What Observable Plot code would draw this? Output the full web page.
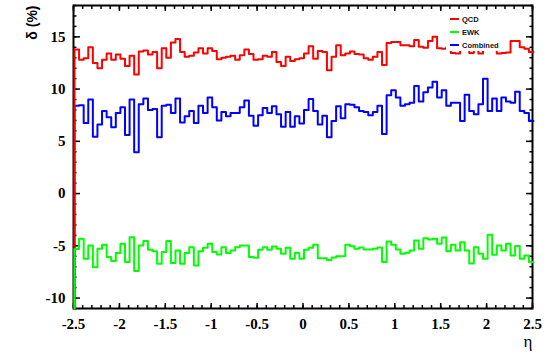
<!DOCTYPE html>
<html><head><meta charset="utf-8">
<script src="https://cdn.jsdelivr.net/npm/d3@7"></script>
<script src="https://cdn.jsdelivr.net/npm/@observablehq/plot@0.6"></script>
<style>
body{margin:0;background:#fff;}
#wrap{position:relative;width:548px;height:356px;}
#wrap svg{position:absolute;left:0;top:0;}
#legend{position:absolute;left:446px;top:10px;width:58px;height:40.5px;background:#fff;font:bold 7.5px "Liberation Sans",Arial,sans-serif;color:#111;}
.row{position:absolute;left:0;height:10px;display:flex;align-items:center;white-space:nowrap}
.sw{display:inline-block;width:9px;height:2px;margin-left:4px;margin-right:3px}
</style></head><body><div id="wrap"></div>
<script>
const etaMin = -2.5, etaMax = 2.5;
const yMin = -11, yMax = 18;
const qcd = [13.8,12.8,12.96,14.0,12.5,12.0,12.8,13.4,12.8,13.3,12.9,12.2,13.2,11.4,13.6,13.7,13.3,13.55,12.0,13.9,13.0,14.45,14.8,13.55,13.1,
13.2,13.5,13.9,13.4,13.9,13.65,12.85,13.0,13.1,13.2,12.8,13.25,13.8,13.35,12.8,12.85,13.2,13.1,13.55,12.6,12.2,13.1,12.7,12.85,12.95,
13.4,14.1,12.9,13.65,13.55,11.8,13.1,14.2,13.25,13.4,13.6,13.35,13.3,12.95,12.8,13.1,13.55,12.3,14.4,14.5,14.5,14.2,14.2,14.1,14.7,
14.05,13.95,14.6,15.0,13.9,13.85,14.0,13.45,13.4,13.9,14.1,13.45,13.9,13.4,13.8,14.0,13.9,13.4,13.45,13.5,14.6,14.6,14.0,13.85,13.55];
const combined = [8.4,8.45,6.75,9.0,5.45,6.6,7.9,7.3,6.35,7.7,8.25,5.6,9.0,3.95,8.55,9.1,8.0,8.1,5.4,8.4,8.5,7.7,9.1,6.8,7.4,
7.9,6.75,8.4,7.7,9.2,8.25,7.0,7.8,7.4,7.7,7.7,8.25,8.9,7.45,6.5,7.5,8.2,7.7,8.35,7.6,6.4,7.8,6.4,7.4,6.7,
8.0,9.05,7.9,6.6,7.45,5.4,6.95,8.35,7.2,8.55,8.5,8.25,7.9,7.8,7.5,7.8,8.4,5.7,9.4,9.9,9.2,8.4,8.55,8.7,10.3,
8.8,9.7,10.15,10.7,9.2,9.9,8.4,8.7,8.7,6.95,9.45,7.9,7.6,8.55,11.0,7.9,9.1,7.9,9.2,8.8,8.7,9.75,7.9,7.7,6.95];
const ewk = [-5.3,-4.33,-6.24,-4.97,-7.04,-5.29,-4.9,-6.08,-6.46,-5.7,-4.81,-6.56,-4.17,-7.42,-4.97,-4.55,-5.38,-5.51,-6.72,-5.6,-4.55,-6.65,-5.44,-6.72,-5.7,
-5.13,-6.88,-5.51,-5.19,-4.81,-5.6,-5.83,-5.13,-5.7,-5.44,-5.13,-4.97,-4.97,-6.08,-6.14,-5.38,-5.13,-5.38,-5.06,-5.29,-5.76,-5.19,-6.24,-5.7,-6.24,
-5.38,-5.19,-4.9,-6.18,-6.18,-6.37,-6.11,-5.99,-5.99,-4.9,-5.05,-5.29,-5.15,-5.35,-5.35,-5.29,-5.15,-6.56,-4.58,-4.9,-5.35,-5.76,-5.67,-5.45,-4.49,
-5.29,-4.27,-4.39,-4.33,-4.81,-4.2,-5.51,-4.9,-5.45,-4.65,-5.45,-6.69,-5.13,-5.76,-6.24,-3.95,-5.86,-4.97,-5.45,-4.81,-5.92,-5.03,-6.24,-5.92,-6.56];
const xTicks = [-2.5,-2,-1.5,-1,-0.5,0,0.5,1,1.5,2,2.5];
const yTicks = [-10,-5,0,5,10,15];
const xMinor = d3.range(-25, 26).map(d => d / 10);
const yMinor = d3.range(-11, 19);
const seriesNames = ["QCD","EWK","Combined"];
const seriesColors = ["#ff0000","#00ff00","#0000ff"];

function steps(vals) {
  const w = (etaMax - etaMin) / vals.length;
  const pts = [{x: etaMin, y: yMin}];
  vals.forEach((v, i) => pts.push({x: etaMin + i * w, y: v}));
  pts.push({x: etaMax, y: vals[vals.length - 1]});
  return pts;
}
const blank = () => "";
const chart = Plot.plot({
  width: 548, height: 356,
  marginLeft: 73, marginRight: 16, marginTop: 5, marginBottom: 48,
  x: {domain: [etaMin, etaMax], label: null},
  y: {domain: [yMin, yMax], label: null},
  style: {fontFamily: "'Liberation Serif', serif", fontSize: "15px", fontWeight: "bold", background: "white", color: "black"},
  marks: [
    Plot.frame({strokeWidth: 2}),
    Plot.axisY(yTicks, {anchor: "left", tickSize: 7, dx: 7, strokeWidth: 1.5, tickFormat: blank}),
    Plot.axisY(yMinor, {anchor: "left", tickSize: 3.5, dx: 3.5, strokeWidth: 1.5, tickFormat: blank}),
    Plot.axisY(yTicks, {anchor: "right", tickSize: 7, dx: -7, strokeWidth: 1.5, tickFormat: blank}),
    Plot.axisY(yMinor, {anchor: "right", tickSize: 3.5, dx: -3.5, strokeWidth: 1.5, tickFormat: blank}),
    Plot.axisX(xTicks, {anchor: "bottom", tickSize: 5, dy: -5, strokeWidth: 1.5, tickFormat: blank}),
    Plot.axisX(xMinor, {anchor: "bottom", tickSize: 3, dy: -3, strokeWidth: 1.5, tickFormat: blank}),
    Plot.axisX(xTicks, {anchor: "top", tickSize: 5, dy: 5, strokeWidth: 1.5, tickFormat: blank}),
    Plot.axisX(xMinor, {anchor: "top", tickSize: 3, dy: 3, strokeWidth: 1.5, tickFormat: blank}),
    Plot.axisY(yTicks, {anchor: "left", tickSize: 0, tickPadding: 8, tickFormat: d => String(d)}),
    Plot.axisX(xTicks, {anchor: "bottom", tickSize: 0, tickPadding: 10, tickFormat: d => String(d)}),
    Plot.line(steps(combined), {x: "x", y: "y", curve: "step-after", stroke: seriesColors[2], strokeWidth: 2, dx: 1}),
    Plot.line(steps(qcd), {x: "x", y: "y", curve: "step-after", stroke: seriesColors[0], strokeWidth: 2, dx: 1}),
    Plot.line(steps(ewk), {x: "x", y: "y", curve: "step-after", stroke: seriesColors[1], strokeWidth: 2, dx: 1}),
    Plot.text(["δ (%)"], {text: d => d, frameAnchor: "top-left", rotate: -90, textAnchor: "end", dx: -46, dy: 0,
      fontFamily: "'Liberation Sans', sans-serif", fontSize: 14, fontWeight: "bold"}),
    Plot.text(["η"], {text: d => d, frameAnchor: "bottom-right", textAnchor: "end", lineAnchor: "middle", dy: 33,
      fontFamily: "'Liberation Serif', serif", fontSize: 17, fontWeight: "normal"})
  ]
});
const wrap = document.getElementById("wrap");
wrap.appendChild(chart);
const legend = document.createElement("div");
legend.id = "legend";
seriesNames.forEach((name, i) => {
  const row = document.createElement("div");
  row.className = "row";
  row.style.top = (4 + i * 13.2) + "px";
  const sw = document.createElement("span");
  sw.className = "sw";
  sw.style.background = seriesColors[i];
  const t = document.createElement("span");
  t.textContent = name;
  row.appendChild(sw); row.appendChild(t);
  legend.appendChild(row);
});
wrap.appendChild(legend);
</script>
</body></html>
